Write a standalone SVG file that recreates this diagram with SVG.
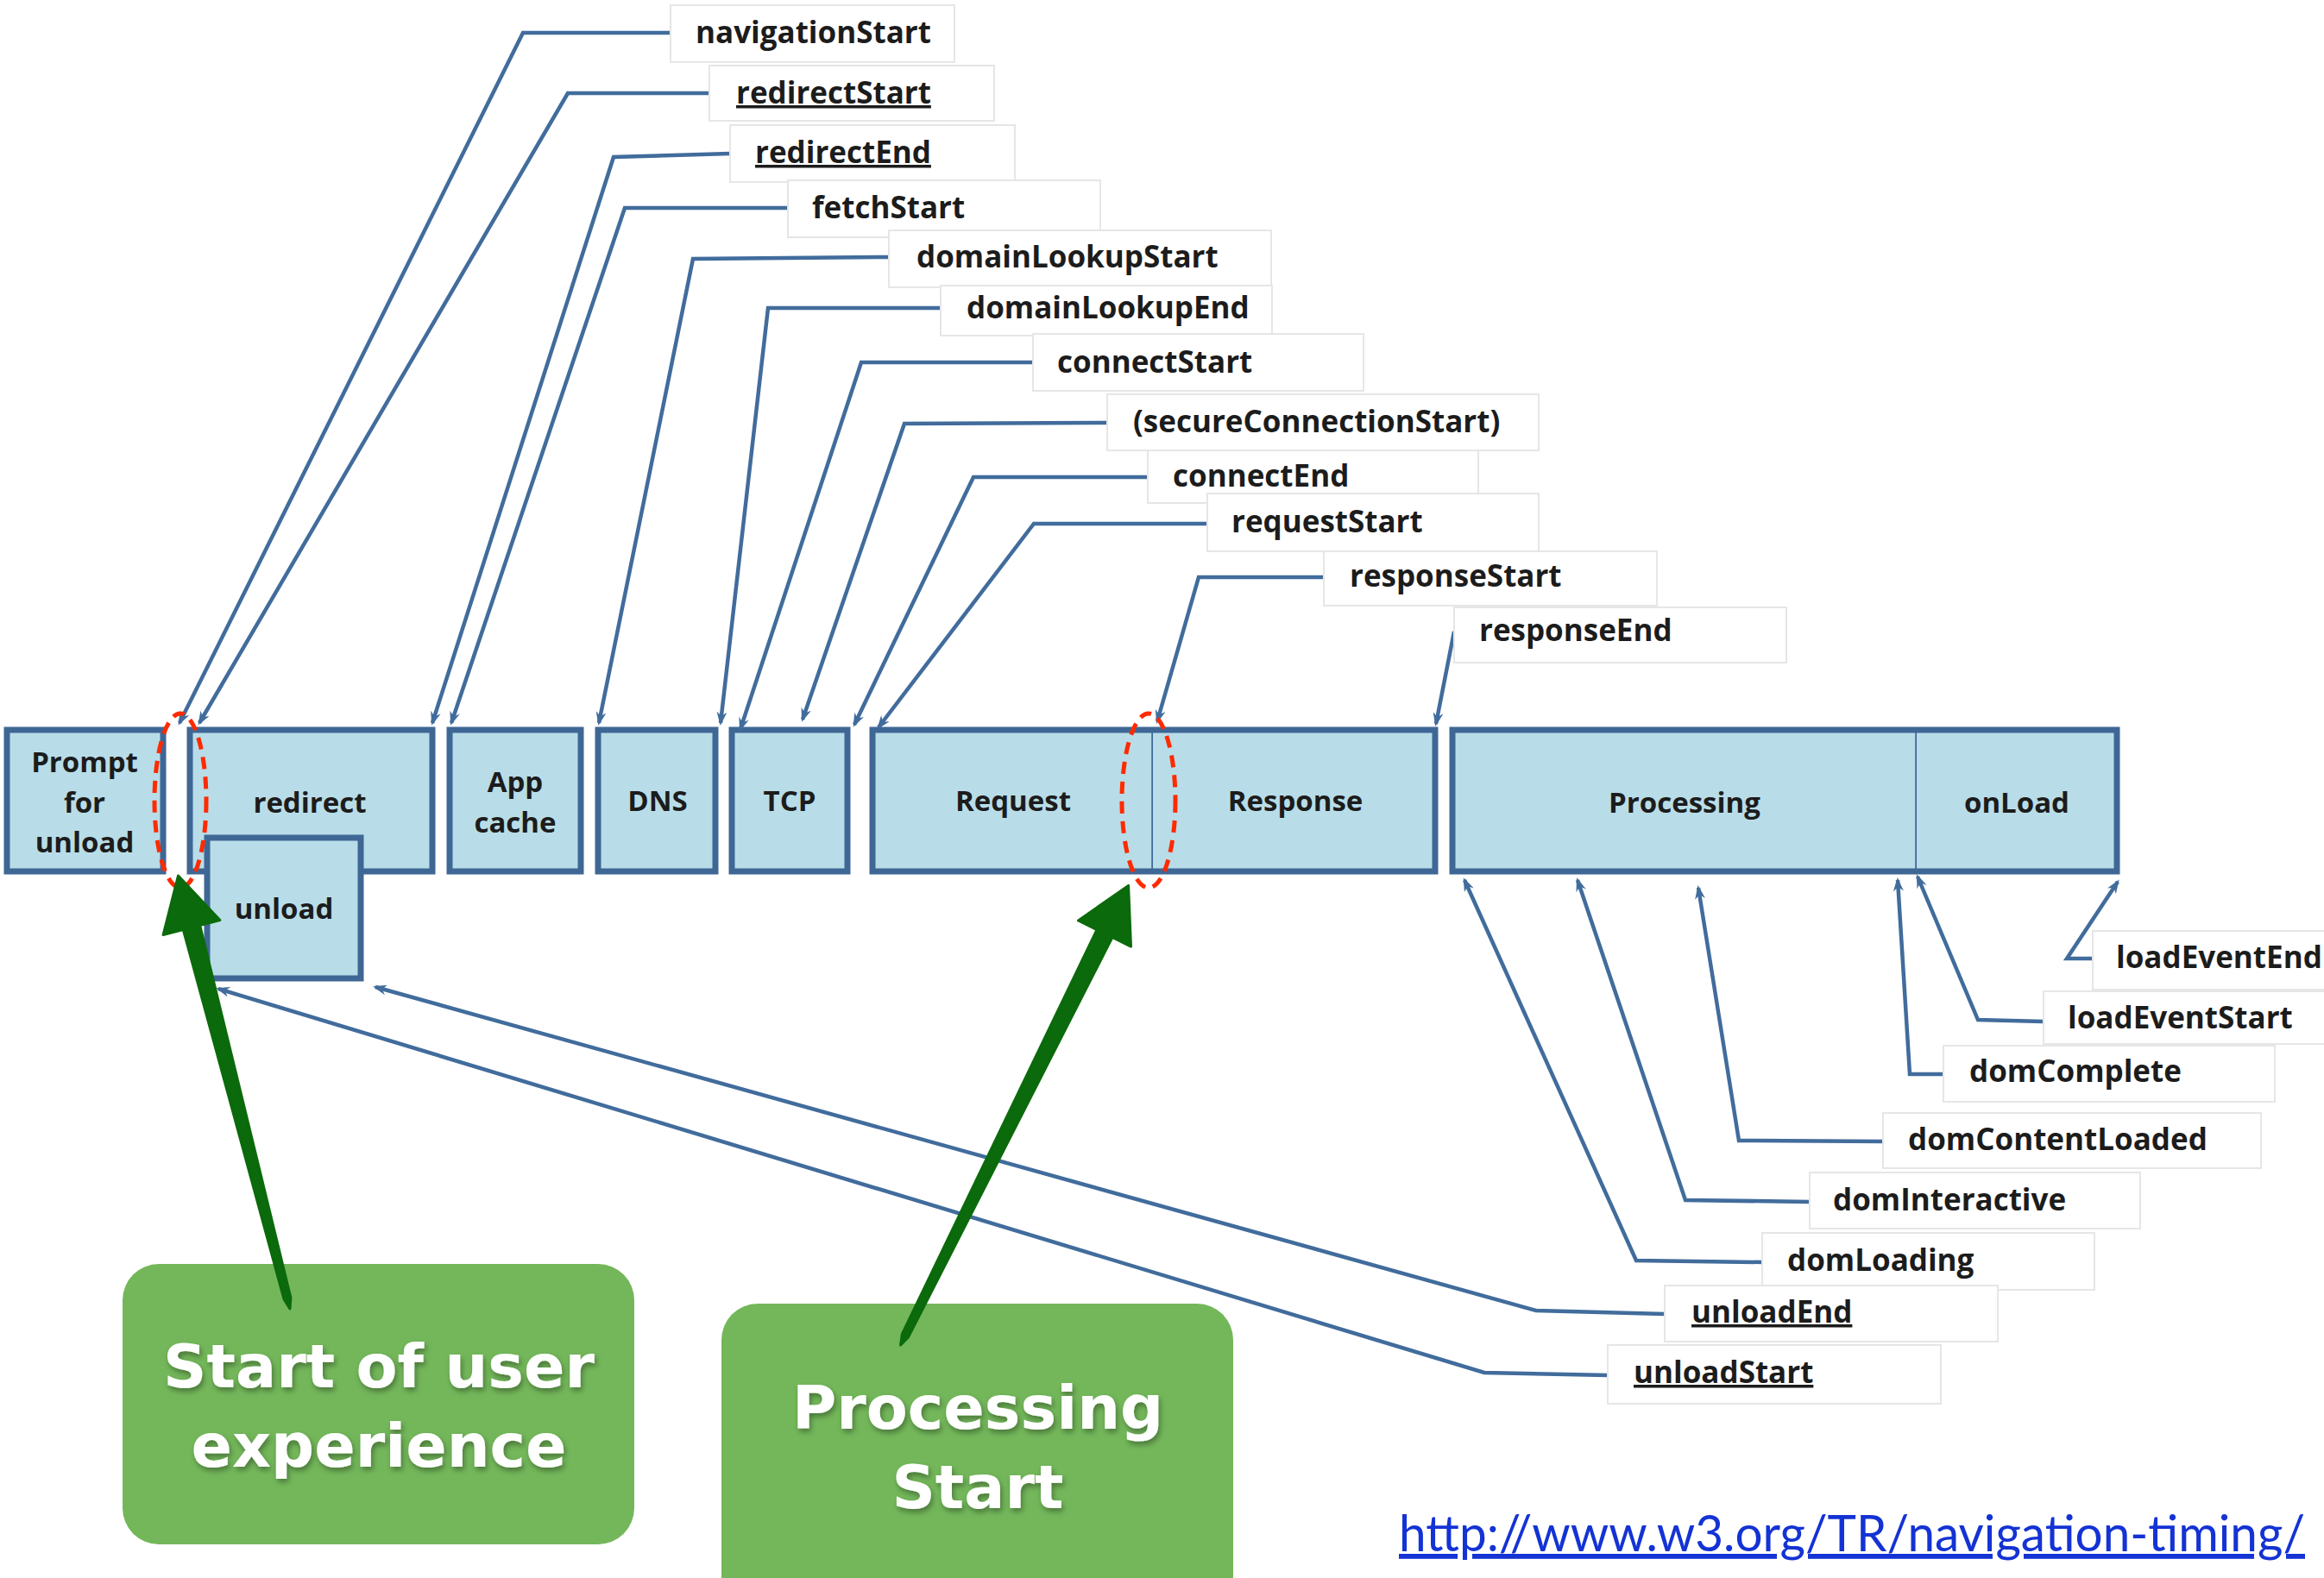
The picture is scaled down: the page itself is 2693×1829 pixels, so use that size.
<svg xmlns="http://www.w3.org/2000/svg" width="2693" height="1829" viewBox="0 0 2693 1829">
<style>
.ph{fill:#b8dde8;stroke:#3f6795;stroke-width:7}
.phf{fill:#b8dde8;stroke:none}
.phb{fill:none;stroke:#3f6795;stroke-width:7}
.div{stroke:#3f6795;stroke-width:3.5}
.bt{font-family:"Open Sans","Liberation Sans",sans-serif;font-weight:700;font-size:33px;fill:#1c1c1c;text-anchor:middle}
.lb{fill:#fff;stroke:#e6e6e6;stroke-width:2}
.lt{font-family:"Open Sans","Liberation Sans",sans-serif;font-weight:700;font-size:35px;fill:#1c1c1c}
.u{text-decoration:underline}
.cn{fill:none;stroke:#416c9c;stroke-width:4.5;marker-end:url(#ah)}
.ring{fill:none;stroke:#ff2a00;stroke-width:5;stroke-dasharray:14 9}
.gb{fill:#73b75a}
.gt{font-family:"DejaVu Sans","Liberation Sans",sans-serif;font-weight:bold;font-size:70px;fill:#fff;text-anchor:middle;filter:url(#sh)}
.ga{fill:#0b6a0b;stroke:#0b6a0b;stroke-width:3;stroke-linejoin:round}
.url{font-family:Lato,"Liberation Sans",sans-serif;font-size:58px;fill:#1433d4;text-decoration:underline}
</style>
<defs>
<marker id="ah" viewBox="0 0 16 12" refX="13" refY="6" markerWidth="16" markerHeight="12" markerUnits="userSpaceOnUse" orient="auto">
<path d="M0,0 L16,6 L0,12 L5,6 z" fill="#416c9c"/>
</marker>
<filter id="sh" x="-10%" y="-20%" width="120%" height="150%">
<feDropShadow dx="2" dy="4" stdDeviation="3" flood-color="#000" flood-opacity="0.35"/>
</filter>
</defs>
<rect x="0" y="0" width="2693" height="1829" fill="#fff"/>

<g id="node-prompt"><rect class="ph" x="8" y="846" width="181" height="164"/>
<text class="bt" x="98" y="895">Prompt</text><text class="bt" x="98" y="942">for</text><text class="bt" x="98" y="988">unload</text></g>
<g id="node-redirect"><rect class="ph" x="220" y="846" width="281" height="164"/><text class="bt" x="359" y="942">redirect</text></g>
<g id="node-unload"><rect class="ph" x="240" y="971" width="178" height="163"/><text class="bt" x="329" y="1065">unload</text></g>
<g id="node-appcache"><rect class="ph" x="521" y="846" width="152" height="164"/>
<text class="bt" x="597" y="918">App</text><text class="bt" x="597" y="965">cache</text></g>
<g id="node-dns"><rect class="ph" x="693" y="846" width="136" height="164"/><text class="bt" x="762" y="940">DNS</text></g>
<g id="node-tcp"><rect class="ph" x="848" y="846" width="134" height="164"/><text class="bt" x="915" y="940">TCP</text></g>
<g id="node-request"><rect class="phf" x="1011" y="846" width="325" height="164"/><path class="phb" d="M1336,846 H1011 V1010 H1336"/><line class="div" x1="1336" y1="843" x2="1336" y2="1013"/><text class="bt" x="1174" y="940">Request</text></g>
<g id="node-response"><rect class="phf" x="1336" y="846" width="327" height="164"/><path class="phb" d="M1336,846 H1663 V1010 H1336"/><text class="bt" x="1501" y="940">Response</text></g>
<g id="node-processing"><rect class="phf" x="1683" y="846" width="538" height="164"/><path class="phb" d="M2221,846 H1683 V1010 H2221"/><line class="div" x1="2221" y1="843" x2="2221" y2="1013"/><text class="bt" x="1952" y="942">Processing</text></g>
<g id="node-onload"><rect class="phf" x="2221" y="846" width="232" height="164"/><path class="phb" d="M2221,846 H2453 V1010 H2221"/><text class="bt" x="2337" y="942">onLoad</text></g>

<g id="connectors">
<path class="cn" d="M777,38 H606 L208,838"/>
<path class="cn" d="M822,108 H658 L231,838"/>
<path class="cn" d="M846,178 L711,182 L501,838"/>
<path class="cn" d="M913,241 H724 L523,838"/>
<path class="cn" d="M1030,298 L803,300 L694,838"/>
<path class="cn" d="M1090,357 H890 L835,838"/>
<path class="cn" d="M1197,420 H998 L858,845"/>
<path class="cn" d="M1283,490 L1048,491 L930,834"/>
<path class="cn" d="M1330,553 H1128 L990,840"/>
<path class="cn" d="M1399,607 H1198 L1018,843"/>
<path class="cn" d="M1534,669 H1389 L1341,836"/>
<path class="cn" d="M1685,732 L1664,839"/>
<path class="cn" d="M2425,1111 H2395 L2454,1022"/>
<path class="cn" d="M2368,1184 L2292,1182 L2222,1016"/>
<path class="cn" d="M2252,1245 H2213 L2199,1020"/>
<path class="cn" d="M2182,1323 L2015,1322 L1968,1029"/>
<path class="cn" d="M2097,1393 L1953,1391 L1828,1020"/>
<path class="cn" d="M2042,1463 L1896,1461 L1697,1020"/>
<path class="cn" d="M1929,1523 L1780,1519 L435,1144"/>
<path class="cn" d="M1863,1594 L1720,1591 L253,1146"/>
</g>

<g id="label-navigationStart"><rect class="lb" x="777" y="6" width="329" height="66"/><text class="lt" x="806" y="50">navigationStart</text></g>
<g id="label-redirectStart"><rect class="lb" x="822" y="76" width="330" height="64"/><text class="lt u" x="853" y="120">redirectStart</text></g>
<g id="label-redirectEnd"><rect class="lb" x="846" y="145" width="330" height="66"/><text class="lt u" x="875" y="189">redirectEnd</text></g>
<g id="label-fetchStart"><rect class="lb" x="913" y="209" width="362" height="66"/><text class="lt" x="941" y="253">fetchStart</text></g>
<g id="label-domainLookupStart"><rect class="lb" x="1030" y="267" width="443" height="66"/><text class="lt" x="1062" y="310">domainLookupStart</text></g>
<g id="label-domainLookupEnd"><rect class="lb" x="1090" y="331" width="384" height="58"/><text class="lt" x="1120" y="369">domainLookupEnd</text></g>
<g id="label-connectStart"><rect class="lb" x="1197" y="387" width="383" height="66"/><text class="lt" x="1225" y="432">connectStart</text></g>
<g id="label-secureConnectionStart"><rect class="lb" x="1283" y="457" width="500" height="65"/><text class="lt" x="1313" y="501">(secureConnectionStart)</text></g>
<g id="label-connectEnd"><rect class="lb" x="1330" y="522" width="383" height="61"/><text class="lt" x="1359" y="564">connectEnd</text></g>
<g id="label-requestStart"><rect class="lb" x="1399" y="572" width="384" height="67"/><text class="lt" x="1427" y="617">requestStart</text></g>
<g id="label-responseStart"><rect class="lb" x="1534" y="639" width="386" height="63"/><text class="lt" x="1564" y="680">responseStart</text></g>
<g id="label-responseEnd"><rect class="lb" x="1685" y="704" width="385" height="64"/><text class="lt" x="1714" y="743">responseEnd</text></g>

<g id="label-loadEventEnd"><rect class="lb" x="2425" y="1079" width="280" height="68"/><text class="lt" x="2452" y="1122">loadEventEnd</text></g>
<g id="label-loadEventStart"><rect class="lb" x="2368" y="1149" width="335" height="61"/><text class="lt" x="2396" y="1192">loadEventStart</text></g>
<g id="label-domComplete"><rect class="lb" x="2252" y="1212" width="384" height="65"/><text class="lt" x="2282" y="1254">domComplete</text></g>
<g id="label-domContentLoaded"><rect class="lb" x="2182" y="1290" width="438" height="64"/><text class="lt" x="2211" y="1333">domContentLoaded</text></g>
<g id="label-domInteractive"><rect class="lb" x="2097" y="1359" width="383" height="65"/><text class="lt" x="2124" y="1403">domInteractive</text></g>
<g id="label-domLoading"><rect class="lb" x="2042" y="1429" width="385" height="66"/><text class="lt" x="2071" y="1473">domLoading</text></g>
<g id="label-unloadEnd"><rect class="lb" x="1929" y="1490" width="386" height="65"/><text class="lt u" x="1960" y="1533">unloadEnd</text></g>
<g id="label-unloadStart"><rect class="lb" x="1863" y="1559" width="386" height="68"/><text class="lt u" x="1893" y="1603">unloadStart</text></g>

<g id="highlights">
<ellipse class="ring" cx="209" cy="928" rx="30" ry="101"/>
<ellipse class="ring" cx="1331" cy="928" rx="31" ry="101"/>
</g>

<g id="note-start-of-user-experience"><rect class="gb" x="142" y="1465" width="593" height="325" rx="42"/>
<text class="gt" x="439" y="1608">Start of user</text><text class="gt" x="439" y="1700">experience</text></g>
<g id="note-processing-start"><rect class="gb" x="836" y="1511" width="593" height="360" rx="42"/>
<text class="gt" x="1133" y="1656">Processing</text><text class="gt" x="1133" y="1748">Start</text></g>

<g id="callout-arrows">
<polygon class="ga" points="206.5,1015 254.9,1066.5 231.7,1072.5 336.9,1504 336,1517 329.1,1506 212.3,1077.5 189.1,1083.5"/>
<polygon class="ga" points="1307.6,1026.4 1310.5,1097.1 1289,1086.4 1052.5,1549.9 1043.6,1558.9 1045.3,1546.3 1271,1077.6 1249.5,1066.9"/>
</g>

<text id="source-url" class="url" x="1621" y="1798" textLength="1050" lengthAdjust="spacingAndGlyphs">http://www.w3.org/TR/navigation-timing/</text>
</svg>
